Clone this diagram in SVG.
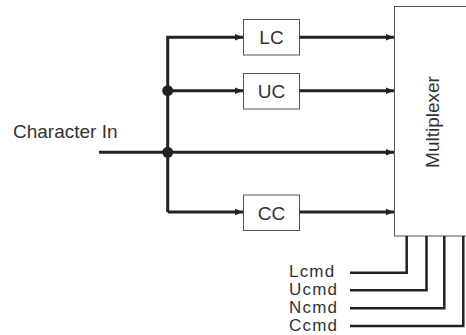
<svg xmlns="http://www.w3.org/2000/svg" width="466" height="335" viewBox="0 0 466 335">
<style>
.box{fill:#fff;stroke:#555;stroke-width:1}
.lbl{font-family:"Liberation Sans",Arial,sans-serif;font-size:19px;fill:#333}
.cl{font-family:"Liberation Sans",Arial,sans-serif;font-size:17px;fill:#333;letter-spacing:1.2px}
.wire{fill:none;stroke:#222;stroke-width:3}
.cmd{fill:none;stroke:#222;stroke-width:2.5}
</style>
<defs>
<marker id="ah" viewBox="0 0 8 8" refX="8" refY="4" markerWidth="8" markerHeight="8" markerUnits="userSpaceOnUse" orient="auto">
<path d="M0,0.8 L8,4 L0,7.2 Z" fill="#222"/>
</marker>
</defs>
<rect width="466" height="335" fill="#fff"/>
<g id="mux">
<rect class="box" x="394.5" y="6.5" width="80" height="229.5"/>
<text class="lbl" transform="translate(439,122) rotate(-90)" text-anchor="middle">Multiplexer</text>
</g>
<g id="lc">
<rect class="box" x="243.5" y="19.5" width="56" height="35.5"/>
<text class="lbl" x="271.5" y="44" text-anchor="middle">LC</text>
</g>
<g id="uc">
<rect class="box" x="243.5" y="73.5" width="56" height="35.5"/>
<text class="lbl" x="271.5" y="98" text-anchor="middle">UC</text>
</g>
<g id="cc">
<rect class="box" x="243.5" y="195" width="56" height="35.5"/>
<text class="lbl" x="271.5" y="219.5" text-anchor="middle">CC</text>
</g>
<g id="input">
<text class="lbl" x="13" y="137.5">Character In</text>
</g>
<g id="cmds">
<text class="cl" x="289" y="277">Lcmd</text>
<text class="cl" x="289" y="295">Ucmd</text>
<text class="cl" x="289" y="313">Ncmd</text>
<text class="cl" x="289" y="331">Ccmd</text>
</g>
<g id="connectors">
<path class="wire" d="M99,152.3 H394" marker-end="url(#ah)"/>
<path class="wire" d="M167.7,212 V37.3 H243" marker-end="url(#ah)"/>
<path class="wire" d="M167.7,90.7 H243" marker-end="url(#ah)"/>
<path class="wire" d="M167.7,212 H243" marker-end="url(#ah)"/>
<path class="wire" d="M299.5,37.3 H394" marker-end="url(#ah)"/>
<path class="wire" d="M299.5,90.7 H394" marker-end="url(#ah)"/>
<path class="wire" d="M299.5,212 H394" marker-end="url(#ah)"/>
<circle cx="167.7" cy="90.7" r="5.5" fill="#222"/>
<circle cx="167.7" cy="152.3" r="5.5" fill="#222"/>
<path class="cmd" d="M350,272.7 H406.7 V236"/>
<path class="cmd" d="M350,290.3 H426.5 V236"/>
<path class="cmd" d="M350,308.3 H444.3 V236"/>
<path class="cmd" d="M350,326 H463.3 V236"/>
</g>
</svg>
